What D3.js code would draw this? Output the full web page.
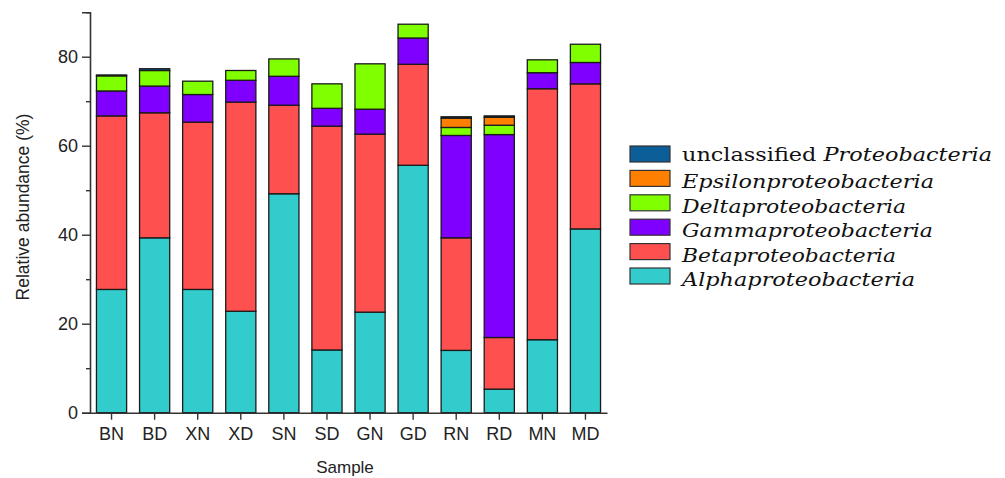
<!DOCTYPE html>
<html>
<head>
<meta charset="utf-8">
<script src="https://cdn.jsdelivr.net/npm/d3@7"></script>
<style>
  html, body { margin: 0; padding: 0; background: #fff; }
  svg { display: block; }
</style>
</head>
<body>
<svg id="chart" width="1005" height="478"></svg>
<script>
// Samples along the x axis
const samples = ["BN", "BD", "XN", "XD", "SN", "SD", "GN", "GD", "RN", "RD", "MN", "MD"];

// Relative abundance (%) of each proteobacterial class per sample
const alpha   = [27.7, 39.3, 27.7, 22.8, 49.2, 14.1, 22.6, 55.6, 14.0,  5.3, 16.4, 41.3];
const beta    = [39.0, 28.1, 37.6, 47.0, 19.9, 50.3, 40.0, 22.7, 25.3, 11.6, 56.4, 32.6];
const gamma   = [ 5.6,  6.0,  6.2,  4.9,  6.5,  4.0,  5.6,  5.9, 23.0, 45.6,  3.6,  4.8];
const delta   = [ 3.4,  3.5,  3.0,  2.2,  3.9,  5.5, 10.2,  3.1,  1.8,  2.1,  2.9,  4.1];
const epsilon = [ 0.0,  0.0,  0.0,  0.0,  0.0,  0.0,  0.0,  0.0,  2.1,  1.8,  0.0,  0.0];
const unclass = [ 0.2,  0.4,  0.0,  0.0,  0.0,  0.0,  0.0,  0.0,  0.3,  0.3,  0.0,  0.0];

// Series, bottom to top of the stack
const seriesKeys = ["alpha", "beta", "gamma", "delta", "epsilon", "unclass"];
const seriesNames = {
  alpha: "Alphaproteobacteria",
  beta: "Betaproteobacteria",
  gamma: "Gammaproteobacteria",
  delta: "Deltaproteobacteria",
  epsilon: "Epsilonproteobacteria",
  unclass: "Proteobacteria"
};
const seriesColors = {
  alpha: "#33CCCC",
  beta: "#FF5050",
  gamma: "#8000FF",
  delta: "#80FF00",
  epsilon: "#FF8000",
  unclass: "#0B5E98"
};

const yTicks = [0, 20, 40, 60, 80];
const yMinorTicks = [10, 30, 50, 70, 90];

const rows = samples.map((s, i) => ({
  sample: s, alpha: alpha[i], beta: beta[i], gamma: gamma[i],
  delta: delta[i], epsilon: epsilon[i], unclass: unclass[i]
}));

const svg = d3.select("#chart");
const font = "Arial, 'Liberation Sans', sans-serif";

const x = d3.scaleBand().domain(samples).range([90, 607]).paddingInner(0.3).paddingOuter(0.15);
const y = d3.scaleLinear().domain([0, 90]).range([412.7, 12.2]);

const stack = d3.stack().keys(seriesKeys)(rows);

// Stacked bars
svg.append("g").selectAll("g").data(stack).join("g")
  .attr("fill", d => seriesColors[d.key])
  .selectAll("rect").data(d => d.filter(p => p[1] - p[0] > 0)).join("rect")
    .attr("x", d => x(d.data.sample))
    .attr("width", x.bandwidth())
    .attr("y", d => y(d[1]))
    .attr("height", d => y(d[0]) - y(d[1]))
    .attr("stroke", "#1a1a1a")
    .attr("stroke-width", 1.3);

// Y axis
const yAxis = svg.append("g").attr("transform", "translate(90,0)")
  .call(d3.axisLeft(y).tickValues(yTicks).tickSize(8).tickPadding(4));
yAxis.select(".domain").attr("stroke", "#333").attr("stroke-width", 1.6);
yAxis.selectAll(".tick line").attr("stroke", "#333").attr("stroke-width", 1.4);
yAxis.selectAll(".tick text").attr("font-family", font).attr("font-size", 18).attr("fill", "#222");
svg.append("g").attr("transform", "translate(90,0)")
  .call(d3.axisLeft(y).tickValues(yMinorTicks).tickSize(4).tickFormat(""))
  .call(g => g.select(".domain").remove())
  .selectAll(".tick line").attr("stroke", "#333").attr("stroke-width", 1.4);

// X axis
const xAxis = svg.append("g").attr("transform", `translate(0,${y(0)})`)
  .call(d3.axisBottom(x).tickSize(7).tickPadding(8).tickSizeOuter(0));
xAxis.select(".domain").attr("stroke", "#333").attr("stroke-width", 1.6);
xAxis.selectAll(".tick line").attr("stroke", "#333").attr("stroke-width", 1.4);
xAxis.selectAll(".tick text").attr("font-family", font).attr("font-size", 18).attr("fill", "#222");

// Axis titles
svg.append("text")
  .attr("transform", "translate(29,207) rotate(-90)")
  .attr("text-anchor", "middle")
  .attr("font-family", font).attr("font-size", 17.5).attr("fill", "#222")
  .text("Relative abundance (%)");
svg.append("text")
  .attr("x", 345).attr("y", 473)
  .attr("text-anchor", "middle")
  .attr("font-family", font).attr("font-size", 17).attr("fill", "#222")
  .text("Sample");

// Legend, top entry first
const legendOrder = ["unclass", "epsilon", "delta", "gamma", "beta", "alpha"];
const legendWidths = { unclass: 310, epsilon: 252, delta: 224, gamma: 251, beta: 214, alpha: 233 };
const serif = "'DejaVu Serif', 'Liberation Serif', serif";
const legend = svg.append("g");
legendOrder.forEach((k, i) => {
  const cy = 154 + i * 24.4;
  legend.append("rect")
    .attr("x", 630).attr("y", cy - 8).attr("width", 40).attr("height", 16)
    .attr("fill", seriesColors[k]).attr("stroke", "#333").attr("stroke-width", 1.2);
  const t = legend.append("text")
    .attr("x", 682).attr("y", cy + 7)
    .attr("font-family", serif).attr("font-size", 19).attr("fill", "#111")
    .attr("textLength", legendWidths[k]).attr("lengthAdjust", "spacingAndGlyphs");
  if (k === "unclass") {
    t.append("tspan").text("unclassified ");
    t.append("tspan").attr("font-style", "italic").text(seriesNames[k]);
  } else {
    t.attr("font-style", "italic").attr("y", cy + 10).text(seriesNames[k]);
  }
});
</script>
</body>
</html>
